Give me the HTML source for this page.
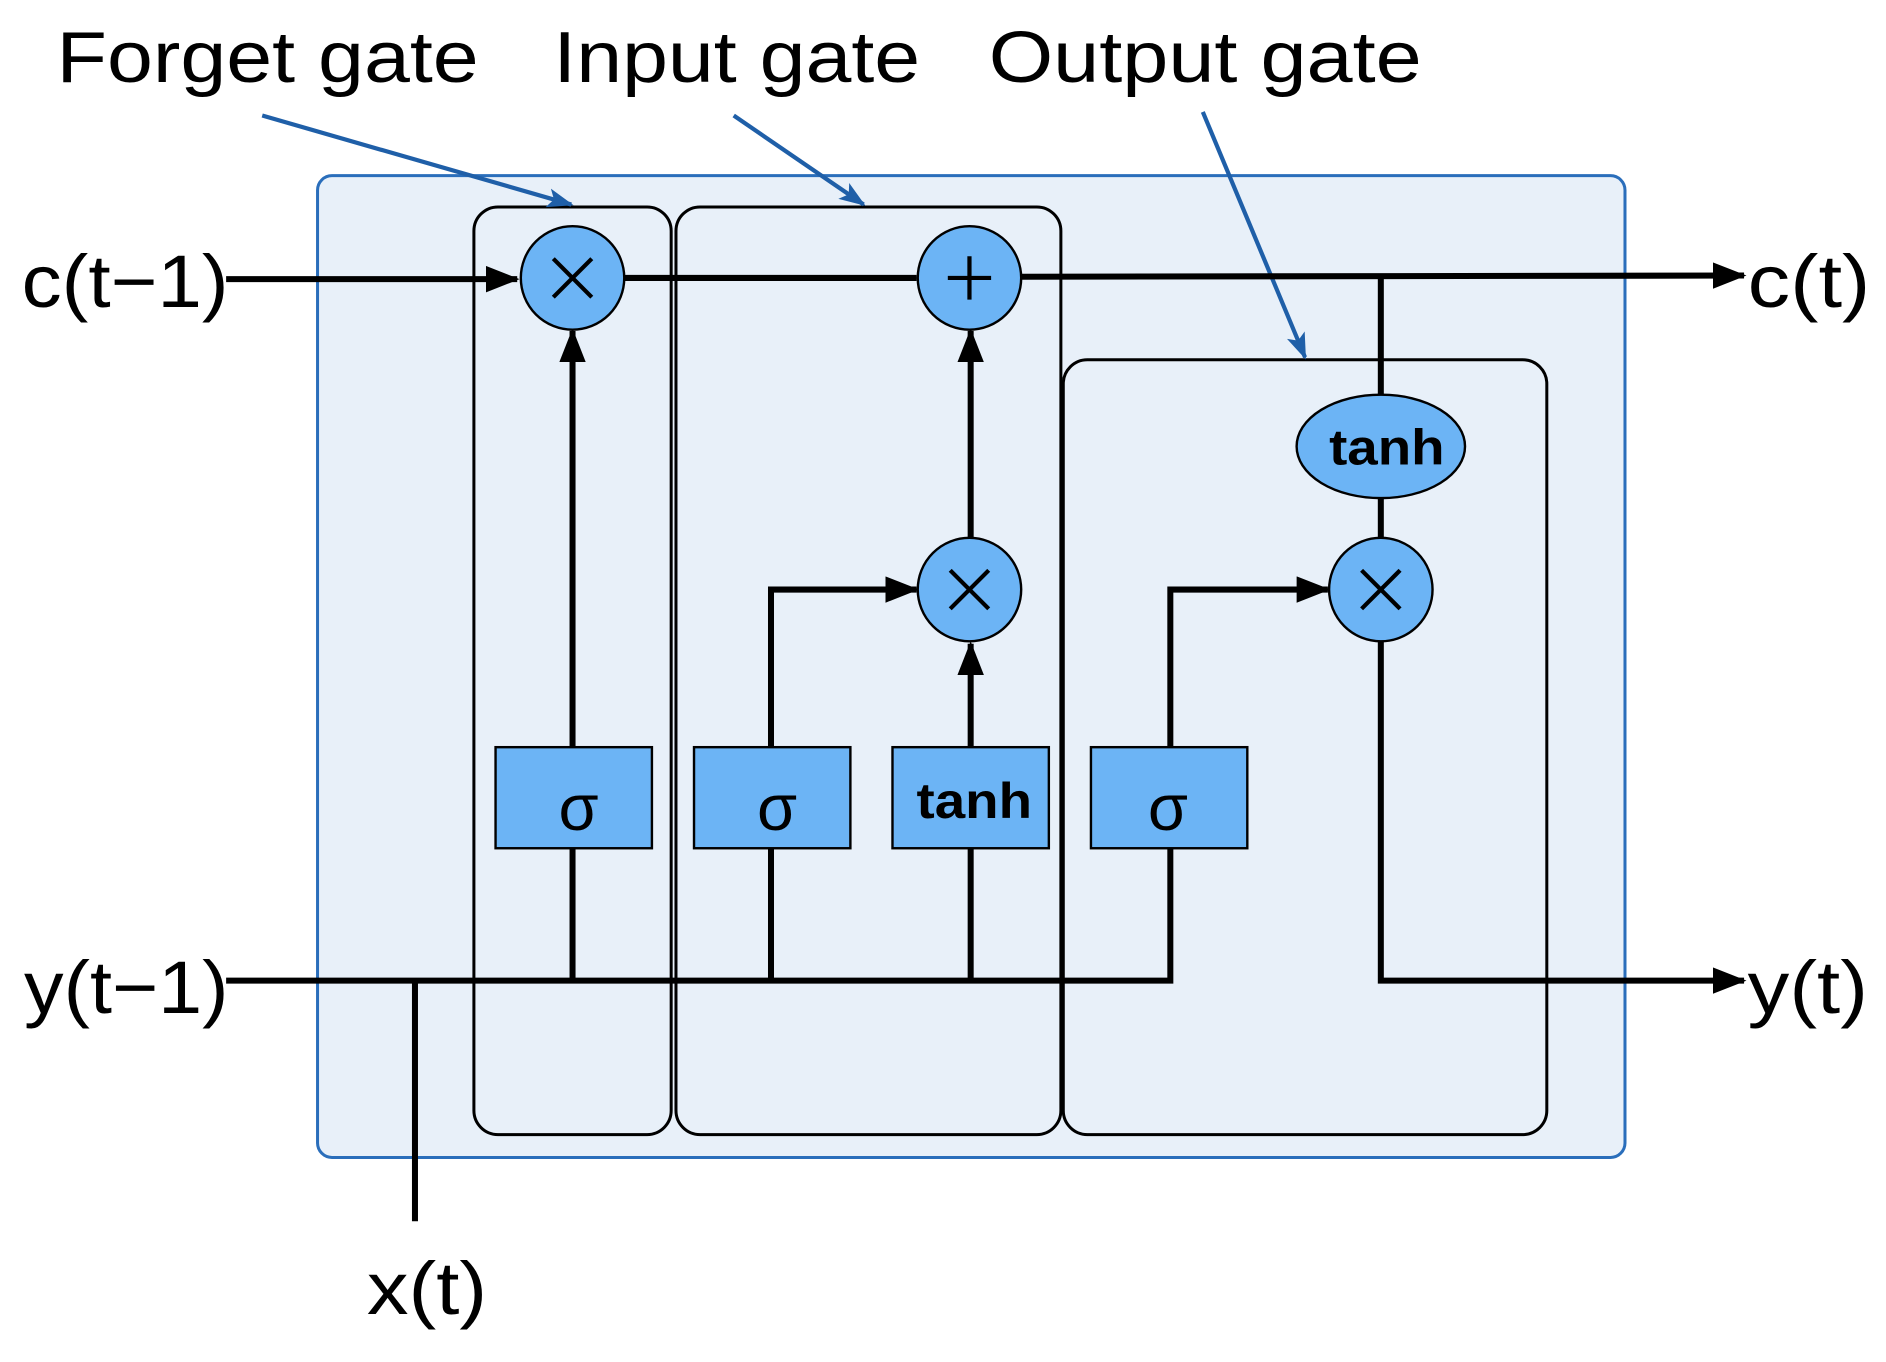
<!DOCTYPE html>
<html><head><style>html,body{margin:0;padding:0;background:#fff}svg{display:block}</style></head>
<body>
<svg width="1886" height="1362" viewBox="0 0 1568 1132" preserveAspectRatio="none" xmlns="http://www.w3.org/2000/svg" font-family="Liberation Sans, sans-serif">
<defs>
<marker id="k" markerWidth="28" markerHeight="22" refX="26" refY="11" orient="auto" markerUnits="userSpaceOnUse"><path d="M0,0 L28,11 L0,22 z" fill="#000"/></marker>
<marker id="b" markerWidth="22" markerHeight="16" refX="20" refY="8" orient="auto" markerUnits="userSpaceOnUse"><path d="M0,0 L22,8 L0,16 L5,8 z" fill="#1f5fa8"/></marker>
</defs>
<rect x="264" y="146" width="1087" height="816" rx="12" fill="#e8f0f9" stroke="#2a6ebb" stroke-width="2.5"/>
<rect x="394" y="172" width="164" height="771" rx="20" fill="none" stroke="#000" stroke-width="2.5"/>
<rect x="562" y="172" width="320" height="771" rx="20" fill="none" stroke="#000" stroke-width="2.5"/>
<rect x="884" y="299" width="402" height="644" rx="20" fill="none" stroke="#000" stroke-width="2.5"/>
<g stroke="#1f5fa8" stroke-width="3.5" fill="none">
<line x1="218" y1="96" x2="475" y2="170" marker-end="url(#b)"/>
<line x1="610" y1="96" x2="718" y2="170" marker-end="url(#b)"/>
<line x1="1000" y1="93" x2="1085" y2="297" marker-end="url(#b)"/>
</g>
<g stroke="#000" stroke-width="5" fill="none">
<line x1="188" y1="232" x2="430" y2="232" marker-end="url(#k)"/>
<line x1="519" y1="231" x2="762" y2="231"/>
<line x1="849" y1="230" x2="1450" y2="229" marker-end="url(#k)"/>
<line x1="1148" y1="230" x2="1148" y2="330"/>
<line x1="1148" y1="414" x2="1148" y2="448"/>
<polyline points="188,815 973,815 973,705"/>
<line x1="345" y1="815" x2="345" y2="1015"/>
<line x1="476" y1="815" x2="476" y2="705"/>
<line x1="641" y1="815" x2="641" y2="705"/>
<line x1="807" y1="815" x2="807" y2="705"/>
<line x1="476" y1="621" x2="476" y2="275" marker-end="url(#k)"/>
<polyline points="641,621 641,490 762,490" marker-end="url(#k)"/>
<line x1="807" y1="621" x2="807" y2="535" marker-end="url(#k)"/>
<line x1="807" y1="447" x2="807" y2="275" marker-end="url(#k)"/>
<polyline points="973,621 973,490 1104,490" marker-end="url(#k)"/>
<polyline points="1148,533 1148,815 1450,815" marker-end="url(#k)"/>
</g>
<g fill="#6cb4f5" stroke="#000" stroke-width="2">
<circle cx="476" cy="231" r="43"/>
<circle cx="806" cy="231" r="43"/>
<circle cx="806" cy="490" r="43"/>
<circle cx="1148" cy="490" r="43"/>
<ellipse cx="1148" cy="371" rx="70" ry="43"/>
<rect x="412" y="621" width="130" height="84"/>
<rect x="577" y="621" width="130" height="84"/>
<rect x="742" y="621" width="130" height="84"/>
<rect x="907" y="621" width="130" height="84"/>
</g>
<g stroke="#000" stroke-width="3.5">
<line x1="460" y1="215" x2="492" y2="247"/><line x1="492" y1="215" x2="460" y2="247"/>
<line x1="790" y1="474" x2="822" y2="506"/><line x1="822" y1="474" x2="790" y2="506"/>
<line x1="1132" y1="474" x2="1164" y2="506"/><line x1="1164" y1="474" x2="1132" y2="506"/>
<line x1="806" y1="213" x2="806" y2="249"/><line x1="788" y1="231" x2="824" y2="231"/>
</g>
<g font-size="54" text-anchor="middle">
<text x="481" y="690">σ</text><text x="646" y="690">σ</text><text x="971" y="690">σ</text>
</g>
<g font-size="42" font-weight="bold" text-anchor="middle">
<text x="810" y="680" textLength="96" lengthAdjust="spacingAndGlyphs">tanh</text><text x="1153" y="386" textLength="96" lengthAdjust="spacingAndGlyphs">tanh</text>
</g>
<g font-size="60" lengthAdjust="spacingAndGlyphs">
<text x="47" y="68" textLength="351" lengthAdjust="spacingAndGlyphs">Forget gate</text>
<text x="460" y="68" textLength="305" lengthAdjust="spacingAndGlyphs">Input gate</text>
<text x="822" y="68" textLength="360" lengthAdjust="spacingAndGlyphs">Output gate</text>
</g>
<g font-size="62">
<text x="18" y="255" textLength="172" lengthAdjust="spacingAndGlyphs">c(t−1)</text>
<text x="1453" y="255" textLength="102" lengthAdjust="spacingAndGlyphs">c(t)</text>
<text x="20" y="842" textLength="170" lengthAdjust="spacingAndGlyphs">y(t−1)</text>
<text x="1453" y="842" textLength="100" lengthAdjust="spacingAndGlyphs">y(t)</text>
<text x="305" y="1092" textLength="100" lengthAdjust="spacingAndGlyphs">x(t)</text>
</g>
</svg>
</body></html>
